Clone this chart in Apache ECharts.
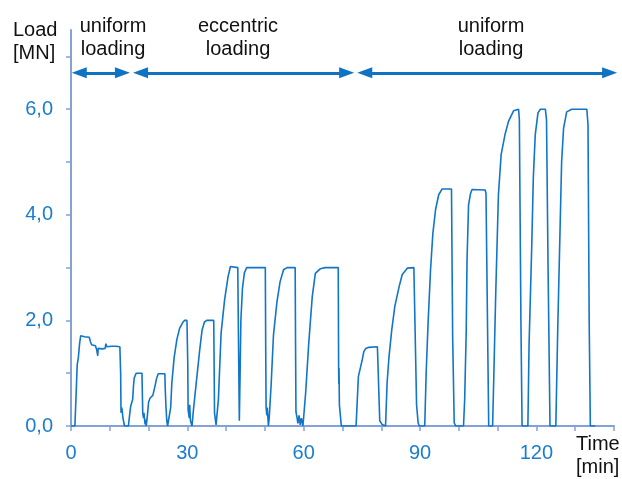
<!DOCTYPE html>
<html>
<head>
<meta charset="utf-8">
<script src="https://cdn.jsdelivr.net/npm/echarts@6/dist/echarts.min.js"></script>
<style>
  html, body { margin: 0; padding: 0; background: #ffffff; }
  #chart { width: 622px; height: 479px; }
</style>
</head>
<body>
<div id="chart"></div>
<script>
// Measured load history: [time in min, load in MN]
const loadRecord = [
  [0, 0], [1.0, 0], [1.3, 0.56], [1.6, 1.16], [1.9, 1.3], [2.2, 1.55], [2.5, 1.71], [3.5, 1.69],
  [4.7, 1.68], [5.0, 1.6], [5.3, 1.54], [5.8, 1.56], [6.3, 1.52], [6.6, 1.45], [6.9, 1.33], [7.0, 1.47],
  [7.3, 1.46], [8.0, 1.46], [8.8, 1.47], [9.0, 1.56], [9.2, 1.5], [9.6, 1.53], [10.5, 1.51], [11.5, 1.51],
  [12.6, 1.5], [12.8, 1.0], [12.9, 0.25], [13.1, 0.35], [13.4, 0.15], [13.8, 0], [14.8, 0],
  [15.1, 0.2], [15.4, 0.38], [15.9, 0.5], [16.1, 0.75], [16.3, 0.91], [16.8, 1.0], [18.3, 1.0],
  [18.4, 0.6], [18.5, 0.25], [18.7, 0.15], [18.8, 0.25], [19.1, 0.03], [19.3, 0.12], [19.4, 0],
  [19.7, 0.2], [20.0, 0.45], [20.4, 0.53], [21.1, 0.58], [21.7, 0.77], [22.1, 0.91], [22.5, 0.99],
  [24.2, 0.99], [24.3, 0.7], [24.5, 0.34], [24.7, 0.1], [24.9, 0], [25.4, 0],
  [25.7, 0.35], [26.0, 0.82], [26.6, 1.3], [27.3, 1.64], [28.0, 1.85], [28.8, 1.96], [29.3, 2.0],
  [29.9, 2.0], [30.1, 1.2], [30.2, 0.3], [30.5, 0.15], [30.6, 0.4], [30.8, 0.1], [31.2, 0],
  [31.6, 0.33], [32.3, 0.82], [33.2, 1.45], [33.8, 1.82], [34.4, 1.97], [35.0, 2.0], [36.8, 2.0],
  [36.9, 1.2], [37.0, 0.25], [37.4, 0.02], [37.7, 0],
  [38.0, 0.5], [38.7, 1.76], [39.6, 2.39], [40.5, 2.83], [41.1, 3.02], [41.6, 3.0], [43.0, 3.0],
  [43.2, 1.5], [43.4, 0.1], [43.6, 1.0], [43.8, 2.0], [44.2, 2.6], [44.7, 2.9], [45.3, 3.0],
  [50.1, 3.0], [50.2, 1.5], [50.3, 0.35], [50.5, 0.2], [50.6, 0.35], [50.9, 0], [51.1, 0.15],
  [51.6, 0.78], [52.2, 1.72], [53.1, 2.35], [53.9, 2.73], [54.8, 2.96], [55.7, 3.0], [57.8, 3.0],
  [57.9, 1.5], [58.0, 0.27], [58.3, 0.15], [58.5, 0.05], [58.8, 0.2], [59.1, 0.02], [59.4, 0.15], [59.8, 0],
  [60.5, 0.63], [61.3, 1.57], [62.2, 2.45], [63.0, 2.89], [64.3, 2.98], [65.5, 3.0], [68.9, 3.0],
  [69.0, 1.1], [69.05, 0.8], [69.1, 1.1], [69.2, 0.4], [69.7, 0], [73.5, 0],
  [74.1, 0.94], [74.7, 1.13], [75.1, 1.26], [75.5, 1.41], [76.0, 1.47], [76.8, 1.49], [79.0, 1.5],
  [79.3, 1.48], [79.6, 0.1], [80.2, 0.03], [81.1, 0],
  [81.5, 0.82], [82.0, 1.32], [82.7, 1.82], [83.5, 2.27], [84.6, 2.64], [85.4, 2.87], [86.7, 2.99],
  [88.4, 3.0], [88.8, 2.97], [89.1, 0.4], [89.5, 0.06], [89.8, 0], [91.2, 0],
  [91.6, 1.07], [92.1, 2.01], [92.7, 2.96], [93.3, 3.65], [94.0, 4.1], [94.8, 4.38], [95.7, 4.49],
  [98.1, 4.49], [98.4, 1.7], [98.8, 0.06], [99.2, 0], [101.2, 0],
  [101.5, 0.5], [101.9, 1.8], [102.1, 3.12], [102.5, 4.19], [103.0, 4.4], [103.4, 4.48], [106.8, 4.47],
  [107.0, 4.4], [107.4, 1.86], [107.7, 0], [108.7, 0],
  [109.0, 0.91], [109.5, 2.49], [110.2, 4.38], [110.9, 5.14], [111.9, 5.52], [112.8, 5.77], [114.1, 5.97],
  [115.4, 6.0], [115.6, 5.8], [116.0, 2.0], [116.3, 0], [117.8, 0],
  [118.1, 1.54], [118.8, 3.43], [119.2, 4.7], [119.7, 5.52], [120.4, 5.93], [121.0, 6.0], [122.3, 6.0],
  [122.6, 5.8], [123.0, 3.0], [123.5, 0], [125.0, 0],
  [125.5, 1.86], [126.1, 3.75], [126.5, 5.01], [127.0, 5.64], [127.8, 5.95], [129.1, 6.0], [133.0, 6.0],
  [133.3, 5.7], [133.6, 2.0], [133.9, 0], [135.2, 0]
];

// Axis ticks and labels
const xTicks = [0, 10, 20, 30, 40, 50, 60, 70, 80, 90, 100, 110, 120, 130, 140];
const xTickLabels = [0, 30, 60, 90, 120];
const yTicks = [0, 1, 2, 3, 4, 5, 6, 7];
const yTickLabels = [0, 2, 4, 6];

// Loading phases (arrow tips, in min)
const phaseNames = ['uniform\nloading', 'eccentric\nloading', 'uniform\nloading'];
const phaseStart = [0.2, 16.0, 73.8];
const phaseEnd = [15.2, 73.0, 140.8];

const FONT = '"Liberation Sans", Arial, Helvetica, sans-serif';
const AXIS_COLOR = '#82a2d8';
const LABEL_COLOR = '#1b7dcf';
const LINE_COLOR = '#1175c8';
const ARROW_COLOR = '#0f72c3';

const grid = { left: 71, right: 8, top: 30, bottom: 53 };
const xMin = 0, xMax = 140, yMax = 7.5;
const arrowLevel = 6.69;
const headLen = 15, headWidth = 11;

const chart = echarts.init(document.getElementById('chart'), null, { renderer: 'canvas' });

// arrow heads are centred on the line ends, so pull the ends in by half a head
const pxPerMin = (chart.getWidth() - grid.left - grid.right) / (xMax - xMin);
const inset = headLen / 2 / pxPerMin;
const arrowLines = phaseStart.map((s, i) => [
  { coord: [s + inset, arrowLevel] },
  { coord: [phaseEnd[i] - inset, arrowLevel] }
]);

const textStyle = (x, y, text, align) => ({
  type: 'text',
  x: x, y: y,
  silent: true,
  style: {
    text: text,
    font: '20px ' + FONT,
    fill: '#111111',
    lineHeight: 23,
    align: align, textAlign: align,
    verticalAlign: 'top', textVerticalAlign: 'top'
  }
});

chart.setOption({
  animation: false,
  backgroundColor: '#ffffff',
  grid: grid,
  xAxis: {
    type: 'value',
    min: xMin, max: xMax, interval: 10,
    axisLine: { show: true, onZero: false, lineStyle: { color: AXIS_COLOR, width: 2 } },
    axisTick: { show: true, inside: false, length: 5, customValues: xTicks, lineStyle: { color: AXIS_COLOR, width: 1.5 } },
    axisLabel: {
      customValues: xTickLabels,
      color: LABEL_COLOR, fontSize: 20, fontFamily: FONT, margin: 17
    },
    splitLine: { show: false }
  },
  yAxis: {
    type: 'value',
    min: 0, max: yMax, interval: 1,
    axisLine: { show: true, lineStyle: { color: AXIS_COLOR, width: 2 } },
    axisTick: { show: true, inside: false, length: 5, customValues: yTicks, lineStyle: { color: AXIS_COLOR, width: 1.5 } },
    axisLabel: {
      customValues: yTickLabels,
      formatter: v => v.toFixed(1).replace('.', ','),
      color: LABEL_COLOR, fontSize: 20, fontFamily: FONT, margin: 18
    },
    splitLine: { show: false }
  },
  graphic: [
    textStyle(13, 19, 'Load\n[MN]', 'left'),
    textStyle(576, 433, 'Time\n[min]', 'left'),
    textStyle(113, 15, phaseNames[0], 'center'),
    textStyle(238, 15, phaseNames[1], 'center'),
    textStyle(491, 15, phaseNames[2], 'center')
  ],
  series: [
    {
      type: 'line',
      data: loadRecord,
      showSymbol: false,
      symbol: 'none',
      lineStyle: { color: LINE_COLOR, width: 1.6 },
      silent: true
    },
    {
      type: 'line',
      data: [],
      clip: false,
      silent: true,
      markLine: {
        silent: true,
        symbol: ['triangle', 'triangle'],
        symbolSize: [headWidth, headLen],
        label: { show: false },
        lineStyle: { color: ARROW_COLOR, width: 3, type: 'solid' },
        emphasis: { disabled: true },
        data: arrowLines
      }
    }
  ]
});
</script>
</body>
</html>
